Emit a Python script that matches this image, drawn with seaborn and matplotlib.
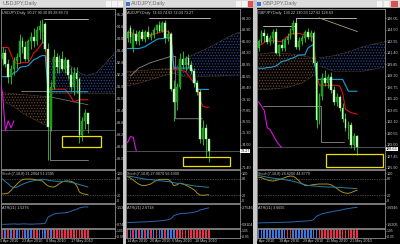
import numpy as np
import pandas as pd
import matplotlib
matplotlib.use("Agg")
import matplotlib.pyplot as plt
import matplotlib.transforms as mtransforms
from matplotlib.patches import Rectangle
import seaborn as sns

sns.set_theme(style="dark")
plt.rcParams['font.family'] = ['Liberation Sans', 'DejaVu Sans']
plt.rcParams['hatch.linewidth'] = 0.6

# ======================= DATA =======================
# ---- USDJPY ----
usd_open  = [93.0, 93.3, 92.75, 92.1, 92.5, 92.9, 93.1, 93.9, 93.6, 93.0, 93.9, 94.1, 93.9, 94.4, 94.3, 94.7,
             93.5, 89.6, 91.6, 93.1, 92.6, 93.0, 92.5, 92.95, 92.2, 91.6, 92.3, 92.0, 89.2, 89.9, 90.27]
usd_high  = [93.6, 93.5, 93.0, 92.7, 93.1, 93.3, 94.2, 94.1, 93.9, 94.0, 94.3, 94.5, 94.6, 94.9, 94.99, 94.8,
             93.8, 91.9, 93.5, 93.3, 93.2, 93.4, 93.1, 93.0, 92.6, 92.6, 92.6, 92.1, 90.1, 90.5, 90.30]
usd_low   = [92.7, 92.6, 91.8, 91.75, 92.2, 92.5, 92.8, 93.3, 92.9, 92.9, 93.5, 93.6, 93.7, 94.0, 93.8, 93.4,
             87.95, 89.4, 91.5, 92.3, 92.3, 92.4, 92.3, 92.0, 91.4, 91.2, 91.3, 88.8, 88.9, 89.5, 89.28]
usd_close = [93.3, 92.75, 92.1, 92.5, 92.9, 93.1, 93.9, 93.6, 93.0, 93.9, 94.1, 93.9, 94.4, 94.6, 94.7, 93.5,
             89.6, 91.6, 93.1, 92.6, 93.0, 92.5, 92.95, 92.2, 91.6, 92.3, 92.0, 89.2, 89.9, 90.27, 89.74]
usd_tenkan = [93.55, 93.55, 93.55, 93.2, 92.85, 92.75, 92.75, 92.8, 92.8, 92.8, 93.0, 93.3, 93.4, 93.6, 93.8, 93.8,
              91.47, 91.47, 91.47, 91.47, 91.47, 91.47, 91.47, 91.3, 91.1, 90.85, 90.9, 90.95, 90.95, 90.95, 90.95]
usd_kijun = [92.1, 92.1, 92.1, 92.15, 92.3, 92.35, 92.55, 92.6, 92.6, 92.65, 92.8, 92.95, 93.0, 93.1, 93.15, 93.15,
             91.35, 91.35, 91.35, 91.35, 91.35, 91.35, 91.35, 91.35, 91.35, 91.35, 91.35, 91.35, 91.35, 91.35, 91.35]
usd_chikou_x = [-1, 0, 1, 2, 3, 4]
usd_chikou = [91.9, 91.3, 89.4, 89.9, 89.55, 89.9]
usd_cloud_up_x = [0, 4, 8, 12, 16.5]
usd_cloud_up_top = [91.3, 91.25, 91.2, 91.15, 91.1]
usd_cloud_up_bot = [90.9, 90.6, 90.2, 89.9, 89.6]
usd_cloud_dn_x = [16.5, 22.3, 27, 29.4, 32.9, 36.4, 39.3]
usd_cloud_dn_top = [93.0, 92.8, 92.3, 92.15, 92.3, 92.8, 93.3]
usd_cloud_dn_bot = [91.27, 91.27, 91.27, 91.27, 91.27, 91.27, 91.27]
usd_upper_x = [14.5, 30]
usd_upper = [94.99, 94.99]
usd_lower_x = [6.6, 16.5, 16.5, 30]
usd_lower = [91.4, 91.4, 87.95, 87.95]
usd_mid_x = [16.5, 30]
usd_mid = [91.1, 90.7]
usd_bid = 89.45
usd_box = (21.0, 34.4, 88.62, 89.12)
usd_ticks = [95.20, 94.60, 94.00, 93.40, 92.80, 92.20, 91.60, 91.00, 90.40, 89.80, 89.20, 88.60, 88.00]
usd_stoch_k = [25, 26, 28, 38, 50, 60, 70, 77, 79, 79, 79, 78, 76, 74, 72, 62, 54, 51, 50, 55, 63, 69, 72, 72,
               71, 67, 55, 32, 26, 24, 22]
usd_stoch_d = [80, 70, 62, 52, 48, 50, 55, 60, 64, 68, 71, 73, 75, 77, 78, 77, 75, 73, 72, 71, 71, 70, 70, 69,
               67, 65, 62, 59, 56, 53, 50]
usd_atr = [0.75, 0.75, 0.76, 0.76, 0.77, 0.76, 0.76, 0.77, 0.77, 0.76, 0.76, 0.76, 0.77, 0.77, 0.78, 0.80,
           1.08, 1.15, 1.22, 1.25, 1.26, 1.27, 1.28, 1.30, 1.35, 1.40, 1.44, 1.50, 1.53, 1.55, 1.54]
usd_strip = list("rbrbrbbrbbbrrbbbrbrrrrrrrrrrrrr")
usd_dates_x = [-1.05, 7.0, 15.1, 24.2]
usd_dates = ["5 Apr 2010", "23 Apr 2010", "6 May 2010", "17 May 2010"]

# ---- AUDJPY ----
aud_open  = [86.0, 87.1, 84.9, 86.4, 85.6, 86.6, 85.9, 86.7, 86.1, 86.3, 86.9, 87.4, 86.8, 87.7, 86.0, 86.4,
             80.2, 78.8, 80.5, 83.6, 82.9, 83.7, 82.9, 82.3, 80.9, 79.9, 74.6, 75.9, 74.63]
aud_high  = [86.9, 87.4, 87.0, 86.9, 86.9, 87.0, 86.9, 87.3, 86.6, 87.2, 87.6, 87.9, 87.9, 88.0, 86.9, 86.6,
             81.3, 80.9, 84.3, 84.5, 84.0, 84.2, 83.4, 82.6, 81.3, 80.3, 76.8, 76.3, 74.63]
aud_low   = [85.5, 85.4, 84.4, 85.3, 85.2, 85.6, 85.5, 85.9, 85.7, 86.0, 86.5, 86.6, 86.6, 85.4, 85.6, 80.0,
             76.7, 77.9, 80.3, 82.5, 82.3, 82.6, 81.9, 80.5, 79.6, 74.2, 73.9, 72.6, 72.04]
aud_close = [86.6, 86.1, 86.4, 85.6, 86.6, 85.9, 86.7, 86.1, 86.3, 86.9, 87.4, 86.8, 87.7, 86.0, 86.4, 80.2,
             78.8, 80.5, 83.6, 82.9, 83.7, 82.9, 82.3, 80.9, 79.9, 74.6, 75.9, 74.63, 73.27]
aud_tenkan = [86.6, 86.6, 86.5, 86.3, 86.1, 86.1, 86.2, 86.3, 86.4, 86.4, 86.5, 86.6, 86.7, 86.8, 86.7, 86.4,
              82.4, 82.4, 82.4, 82.3, 82.2, 81.8, 81.3, 81.0, 80.8, 79.0, 78.3, 78.2, 78.2]
aud_kijun = [84.8, 84.8, 84.8, 84.8, 84.8, 84.9, 85.0, 85.2, 85.4, 85.6, 85.8, 85.9, 85.9, 86.0, 86.0, 86.0,
             82.6, 82.6, 82.6, 82.6, 82.6, 82.6, 82.6, 82.0, 80.2, 80.2, 80.2, 80.2, 80.2]
aud_chikou_x = [0, 1, 2, 3]
aud_chikou = [74.2, 74.9, 74.8, 73.3]
aud_cloud_up_x = [0, 4, 8, 12, 16]
aud_cloud_up_top = [82.2, 82.3, 82.4, 82.5, 82.5]
aud_cloud_up_bot = [80.6, 80.9, 81.3, 81.7, 82.0]
aud_cloud_dn_x = [16, 20, 24, 28, 32, 36, 39]
aud_cloud_dn_top = [82.5, 83.7, 84.3, 84.9, 85.6, 86.3, 86.7]
aud_cloud_dn_bot = [82.0, 81.6, 81.6, 81.7, 81.7, 81.8, 81.8]
aud_upper_x = [7.3, 28.6]
aud_upper = [88.2, 88.2]
aud_lower_x = [1, 3.9, 7.9, 14.8, 16.6, 16.6, 25.8]
aud_lower = [81.7, 82.6, 83.2, 83.9, 83.9, 76.9, 76.9]
aud_bid = 73.27
aud_box = (19.3, 35.5, 71.6, 72.6)
aud_ticks = [88.20, 86.90, 85.60, 84.30, 82.95, 81.65, 80.40, 79.10, 77.85, 76.55, 75.30, 74.00, 71.40]
aud_stoch_k = [88, 83, 75, 67, 60, 56, 55, 58, 61, 68, 74, 78, 78, 78, 78, 70, 55, 58, 64, 62, 57, 52, 46, 40,
               28, 21, 20, 21, 22]
aud_stoch_d = [90, 89, 87, 85, 83, 81, 79, 78, 77, 76, 74, 73, 72, 71, 70, 68, 66, 64, 63, 61, 60, 58, 56, 54,
               53, 52, 51, 50, 49]
aud_atr = [1.10, 1.12, 1.13, 1.15, 1.16, 1.17, 1.18, 1.20, 1.22, 1.24, 1.26, 1.29, 1.32, 1.36, 1.40, 1.52,
           1.85, 1.95, 2.05, 2.08, 2.10, 2.13, 2.16, 2.22, 2.30, 2.45, 2.52, 2.60, 2.67]
aud_strip = list("rbrbrbrbrbrbbrbbbrrrrrrrrrrrr")
aud_dates_x = [-0.34, 7.6, 15.5, 23.4]
aud_dates = ["14 Apr 2010", "26 Apr 2010", "6 May 2010", "18 May 2010"]

# ---- GBPJPY ----
gbp_open  = [142.0, 143.0, 144.1, 143.6, 142.9, 143.4, 144.2, 141.4, 142.4, 142.0, 143.1, 143.5, 144.4, 145.4,
             142.2, 143.0, 143.4, 144.2, 143.5, 144.1, 140.0, 132.3, 135.5, 138.0, 137.3, 138.1, 136.4, 134.8,
             135.4, 133.9, 132.5, 131.3, 131.6, 129.0, 130.22]
gbp_high  = [143.3, 144.5, 144.6, 144.1, 143.8, 144.6, 144.8, 142.6, 143.3, 143.4, 144.0, 144.7, 145.8, 145.6,
             143.5, 143.8, 144.4, 144.7, 144.4, 144.3, 140.3, 136.0, 138.6, 139.0, 138.5, 138.8, 136.9, 136.0,
             135.7, 134.6, 133.3, 132.2, 132.0, 130.5, 130.33]
gbp_low   = [141.6, 142.7, 142.9, 142.6, 142.5, 142.7, 141.2, 140.9, 141.6, 141.6, 142.6, 143.2, 143.9, 141.9,
             141.8, 142.5, 142.9, 143.2, 143.0, 139.6, 131.3, 131.8, 135.0, 136.9, 136.6, 136.0, 134.3, 134.2,
             133.5, 132.1, 130.8, 129.7, 128.5, 128.2, 127.62]
gbp_close = [143.0, 144.1, 143.6, 142.9, 143.4, 144.2, 141.4, 142.4, 142.0, 143.1, 143.5, 144.4, 145.4, 142.2,
             143.0, 143.4, 144.2, 143.5, 144.1, 140.0, 132.3, 135.5, 138.0, 137.3, 138.1, 136.4, 134.8, 135.4,
             133.9, 132.5, 131.3, 131.6, 129.0, 130.22, 128.63]
gbp_tenkan = [142.4, 142.5, 142.8, 143.1, 143.1, 143.0, 143.0, 142.9, 142.9, 143.3, 143.6, 143.9, 144.0, 144.0,
              144.0, 143.9, 143.8, 143.7, 143.6, 143.5, 138.5, 137.0, 137.0, 137.0, 137.0, 137.0, 137.0, 137.0,
              136.9, 136.0, 133.8, 133.5, 133.3, 133.2, 133.1]
gbp_kijun = [139.3, 139.3, 139.3, 139.4, 139.4, 139.5, 139.6, 139.9, 140.2, 140.3, 140.4, 140.6, 140.7, 140.9,
             141.1, 141.1, 141.1, 142.0, 142.3, 142.5, 137.8, 137.8, 137.8, 137.8, 137.8, 137.8, 137.8, 137.8,
             137.8, 137.8, 137.0, 136.2, 136.2, 136.2, 136.2]
gbp_chikou_x = [0, 1, 2, 3, 4, 5, 6, 7, 8]
gbp_chikou = [134.8, 134.2, 133.6, 131.3, 131.0, 130.3, 129.6, 129.0, 128.63]
gbp_cloud_up_x = [0, 5, 10, 15, 20]
gbp_cloud_up_top = [141.2, 141.4, 141.3, 141.0, 140.6]
gbp_cloud_up_bot = [136.4, 136.5, 136.7, 137.3, 138.6]
gbp_cloud_dn_x = [21, 26, 31, 36, 40, 44]
gbp_cloud_dn_top = [140.7, 141.0, 141.5, 142.2, 142.6, 142.9]
gbp_cloud_dn_bot = [139.6, 138.9, 138.9, 138.9, 139.2, 139.5]
gbp_upper_x = [1.4, 12.9, 12.9, 33.6]
gbp_upper = [145.0, 145.0, 146.1, 146.1]
gbp_trend_x = [20.9, 34.1]
gbp_trend = [146.1, 144.25]
gbp_lower_x = [1.4, 21.4, 21.4, 29.6]
gbp_lower = [134.2, 134.2, 129.3, 129.3]
gbp_bid = 128.63
gbp_box = (23.4, 42.8, 125.96, 127.7)
gbp_ticks = [146.05, 144.50, 142.95, 141.40, 139.85, 138.30, 136.75, 135.20, 133.65, 132.10, 130.55, 129.00,
             127.45, 125.90]
gbp_stoch_k = [86, 84, 80, 76, 73, 72, 74, 77, 80, 84, 88, 90, 89, 82, 72, 62, 56, 55, 57, 59, 60, 61, 61, 61,
               61, 58, 52, 45, 37, 31, 28, 27, 30, 35, 38]
gbp_stoch_d = [92, 90, 88, 86, 84, 82, 81, 80, 79, 77, 75, 73, 71, 68, 65, 62, 59, 56, 55, 54, 53, 52, 51, 51,
               50, 50, 50, 49, 49, 48, 47, 46, 46, 45, 44]
gbp_atr = [1.80, 1.81, 1.82, 1.82, 1.83, 1.84, 1.85, 1.86, 1.87, 1.88, 1.89, 1.90, 1.92, 1.95, 1.97, 2.00, 2.02,
           2.04, 2.08, 2.20, 2.60, 2.75, 2.90, 2.98, 3.05, 3.12, 3.20, 3.26, 3.32, 3.40, 3.47, 3.52, 3.58, 3.63,
           3.67]
gbp_strip = list("bbbbbbbbbbrrbbbbbbbbbrrrrrrrrrrrrrr")
gbp_dates_x = [-1.03, 7.2, 15.2, 23.4, 31.4]
gbp_dates = ["7 Apr 2010", "19 Apr 2010", "29 Apr 2010", "11 May 2010", "21 May 2010"]

# ======================= STYLE =======================
W, H = 400, 244
BG = "black"
WICK = "#2fcf2f"
BULL = "#168f16"
BEAR = "#d8ffd0"
RED = "#e01010"
BLUE = "#1d9fd8"
MAG = "#e010e0"
TXT = "#c8c8c8"
FS = 2.7

fig = plt.figure(figsize=(4, 2.44), dpi=100, facecolor=BG)


def add_ax(x0, y0, x1, y1):
    ax = fig.add_axes([x0 / W, 1 - y1 / H, (x1 - x0) / W, (y1 - y0) / H])
    ax.set_facecolor(BG)
    ax.grid(False)
    for s in ax.spines.values():
        s.set_color("#8c8c8c")
        s.set_linewidth(0.6)
    ax.tick_params(axis="x", bottom=False, labelbottom=False)
    ax.yaxis.tick_right()
    ax.tick_params(axis="y", colors=TXT, labelsize=FS, length=1.0, width=0.4, pad=0.4)
    return ax


def line(ax, x, y, color, lw=0.8, ls="-", z=5):
    sns.lineplot(x=np.asarray(x, float), y=np.asarray(y, float), ax=ax, color=color, linewidth=lw,
                 linestyle=ls, sort=False, estimator=None, legend=False, zorder=z)


def cloud(ax, x, top, bot, hatch_col, edge_col):
    ax.fill_between(x, bot, top, facecolor="none", edgecolor=hatch_col, hatch="......", linewidth=0, zorder=1)
    line(ax, x, top, edge_col, lw=0.5, ls=(0, (1, 1)), z=2)
    line(ax, x, bot, edge_col, lw=0.5, ls=(0, (1, 1)), z=2)


def lims_for(lo_label, hi_label, lo_frac, hi_frac):
    r = (hi_label - lo_label) / (hi_frac - lo_frac)
    lo = lo_label - lo_frac * r
    return lo, lo + r


def panel(x0, x1, spacing, name, o, h, l, c, tenkan, kijun, chx, chk, cux, cut, cub, cdx, cdt, cdb,
          grey_lines, bid, box, ticks, ylim, title_vals, stk, std, stoch_title, atr, atr_title,
          atr_labels, strip, dates_x, dates, price_box=None, box_va="center"):
    n = len(o)
    xl = (-(1.5) / spacing, -(1.5) / spacing + (x1 - x0) / spacing)
    # ---------- main ----------
    ax = add_ax(x0, 9, x1, 169)
    ax.set_xlim(*xl)
    ax.set_ylim(*ylim)
    cloud(ax, cux, cut, cub, "#6e4a2e", "#8a6040")
    cloud(ax, cdx, cdt, cdb, "#2c4898", "#806450")
    for gx, gy, gc in grey_lines:
        line(ax, gx, gy, gc, lw=0.6, z=3)
    ax.axhline(bid, color="#6c6c6c", lw=0.5, zorder=2)
    xs = np.arange(n)
    o, h, l, c = map(np.asarray, (o, h, l, c))
    ax.vlines(xs, l, h, color=WICK, lw=0.6, zorder=6)
    up = c >= o
    ax.bar(xs[up], (c - o)[up], bottom=o[up], width=0.62, color=BULL, edgecolor=WICK, linewidth=0.3, zorder=7)
    ax.bar(xs[~up], (o - c)[~up], bottom=c[~up], width=0.62, color=BEAR, edgecolor="#8ee87e", linewidth=0.3,
           zorder=7)
    line(ax, xs, tenkan, RED, lw=0.8, z=5)
    line(ax, xs, kijun, BLUE, lw=0.8, z=5)
    line(ax, chx, chk, MAG, lw=0.8, z=5)
    ax.add_patch(Rectangle((box[0], box[2]), box[1] - box[0], box[3] - box[2], fill=False, edgecolor="#f0e000",
                           linewidth=0.9, zorder=8))
    ax.set_yticks(ticks)
    ax.set_yticklabels([f"{t:.2f}" for t in ticks])
    ax.text(0.01, 0.985, f"{name},Daily  {title_vals}", transform=ax.transAxes, color=TXT, fontsize=FS,
            va="top", ha="left", zorder=9)
    if price_box is not None:
        ax.text(1.006, price_box, f"{price_box:.2f}", transform=mtransforms.blended_transform_factory(
            ax.transAxes, ax.transData), color="black", fontsize=FS, va=box_va, ha="left",
            bbox=dict(boxstyle="square,pad=0.05", fc="white", ec="none"), zorder=10, clip_on=False)
    # ---------- stochastic ----------
    ax2 = add_ax(x0, 170, x1, 203)
    ax2.set_xlim(*xl)
    ax2.set_ylim(-8, 112)
    ax2.axhline(80, color="#808080", lw=0.5, ls=(0, (1, 1.5)))
    ax2.axhline(20, color="#808080", lw=0.5, ls=(0, (1, 1.5)))
    line(ax2, xs, stk, "#a8901c", lw=0.7)
    line(ax2, xs, std, "#2a7fa0", lw=0.7)
    ax2.set_yticks([100, 80, 20, 0])
    ax2.set_yticklabels(["100", "80", "20", "0"])
    ax2.text(0.01, 0.95, stoch_title, transform=ax2.transAxes, color=TXT, fontsize=FS, va="top", ha="left")
    # ---------- ATR ----------
    ax3 = add_ax(x0, 204, x1, 228)
    ax3.set_xlim(*xl)
    ax3.set_ylim(*lims_for(atr_labels[1], atr_labels[0], 0.15, 0.87))
    line(ax3, xs, atr, "#2868b0", lw=0.7)
    ax3.set_yticks(atr_labels)
    ax3.set_yticklabels([f"{v:.4f}" for v in atr_labels])
    ax3.text(0.01, 0.93, atr_title, transform=ax3.transAxes, color=TXT, fontsize=FS, va="top", ha="left")
    # ---------- strip ----------
    ax4 = add_ax(x0, 229, x1, 238)
    ax4.set_xlim(*xl)
    ax4.set_ylim(-0.05, 1.05)
    cols = ["#e8304a" if s == "r" else "#3a78e0" for s in strip]
    ax4.bar(xs, [1.1] * n, bottom=-0.05, width=0.6, color=cols, linewidth=0)
    ax4.set_yticks([0.82, 0.18])
    ax4.set_yticklabels(["1.05", "-0.05"])
    ax4.tick_params(axis="y", labelsize=2.4)
    tr = mtransforms.blended_transform_factory(ax4.transData, ax4.transAxes)
    for dx, dt in zip(dates_x, dates):
        ax4.text(dx, -0.12, dt, transform=tr, color=TXT, fontsize=FS, va="top", ha="left", clip_on=False)


panel(1, 115, 2.85, "USDJPY", usd_open, usd_high, usd_low, usd_close, usd_tenkan, usd_kijun,
      usd_chikou_x, usd_chikou, usd_cloud_up_x, usd_cloud_up_top, usd_cloud_up_bot,
      usd_cloud_dn_x, usd_cloud_dn_top, usd_cloud_dn_bot,
      [(usd_upper_x, usd_upper, "#cfcfcf"), (usd_lower_x, usd_lower, "#8a8a8a"), (usd_mid_x, usd_mid, "#707070")],
      usd_bid, usd_box, usd_ticks, (87.5, 95.47), "90.27 90.30 89.28 89.74",
      usd_stoch_k, usd_stoch_d, "Stoch(7,10,8) 21.2064 51.2395", usd_atr, "ATR(21) 1.5376",
      [1.5376, 0.7469], usd_strip, usd_dates_x, usd_dates)

panel(126, 240, 2.9, "AUDJPY", aud_open, aud_high, aud_low, aud_close, aud_tenkan, aud_kijun,
      aud_chikou_x, aud_chikou, aud_cloud_up_x, aud_cloud_up_top, aud_cloud_up_bot,
      aud_cloud_dn_x, aud_cloud_dn_top, aud_cloud_dn_bot,
      [(aud_upper_x, aud_upper, "#cfcfcf"), (aud_lower_x, aud_lower, "#8a8a8a")],
      aud_bid, aud_box, aud_ticks, (71.25, 89.24), "74.63 74.63 72.04 73.27",
      aud_stoch_k, aud_stoch_d, "Stoch(7,10,8) 27.0070 56.6300", aud_atr, "ATR(21) 2.6718",
      [2.7546, 0.9104], aud_strip, aud_dates_x, aud_dates, price_box=73.27)

panel(257, 385, 2.9, "GBPJPY", gbp_open, gbp_high, gbp_low, gbp_close, gbp_tenkan, gbp_kijun,
      gbp_chikou_x, gbp_chikou, gbp_cloud_up_x, gbp_cloud_up_top, gbp_cloud_up_bot,
      gbp_cloud_dn_x, gbp_cloud_dn_top, gbp_cloud_dn_bot,
      [(gbp_upper_x, gbp_upper, "#cfcfcf"), (gbp_trend_x, gbp_trend, "#b09a78"),
       (gbp_lower_x, gbp_lower, "#8a8a8a")],
      gbp_bid, gbp_box, gbp_ticks, (125.7, 147.3), "130.22 130.33 127.62 128.63",
      gbp_stoch_k, gbp_stoch_d, "Stoch(7,10,8) 26.6200 44.8779", gbp_atr, "ATR(21) 3.6695",
      [3.6946, 1.6205], gbp_strip, gbp_dates_x, gbp_dates, price_box=128.63, box_va="top")

# ======================= WINDOW CHROME =======================
def fig_rect(x0, y0, x1, y1, color, z=20):
    fig.add_artist(Rectangle((x0 / W, 1 - y1 / H), (x1 - x0) / W, (y1 - y0) / H, transform=fig.transFigure,
                             facecolor=color, edgecolor="none", zorder=z))

fig_rect(0, 0, 400, 8, "#dcdcdc")
fig_rect(0, 7.3, 400, 8, "#a8a8a8")
fig_rect(123, 0, 126, 244, "#c8c8c8")
fig_rect(253, 0, 256.5, 244, "#c8c8c8")
for tx, tt in [(3, "USDJPY,Daily"), (131, "AUDJPY,Daily"), (263, "GBPJPY,Daily")]:
    fig.text(tx / W, 1 - 4 / H, tt, color="#707070", fontsize=4, va="center", ha="left", zorder=21)
fig_rect(126.5, 1.5, 130, 6, "#3a7ad0", z=21)
fig_rect(257, 1.5, 260.5, 6, "#3a7ad0", z=21)
for bx in [106, 112, 118, 236, 242, 377, 384]:
    fig_rect(bx, 1.2, bx + 5, 6.8, "#f4f4f4", z=21)
fig_rect(248, 1.2, 253, 6.8, "#e05050", z=21)
fig_rect(391, 1.2, 398, 6.8, "#e05050", z=21)

fig.savefig("out.png", dpi=100, facecolor=BG)
